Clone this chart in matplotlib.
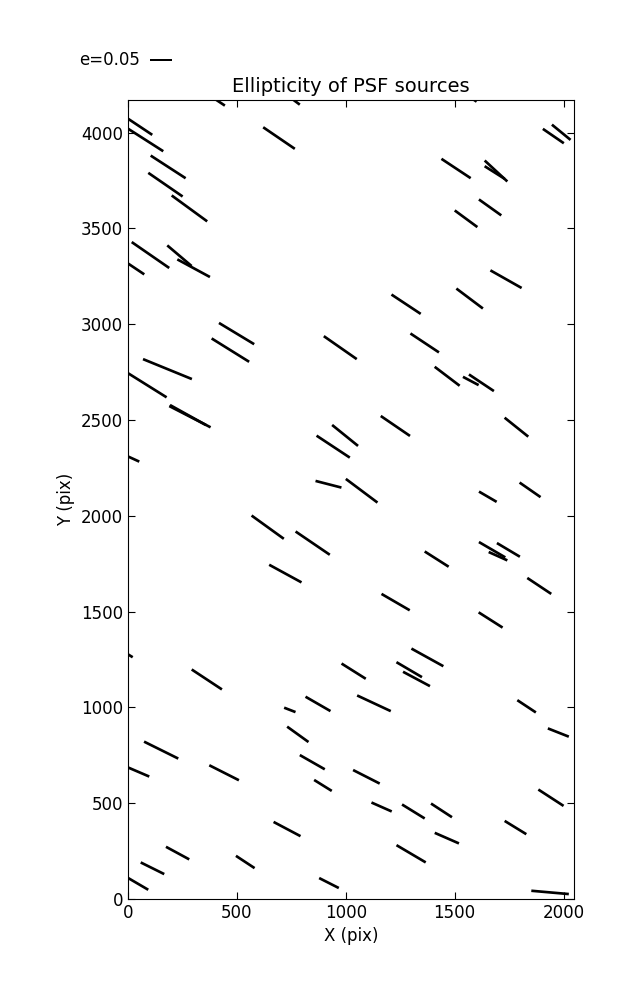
import numpy as np
import matplotlib
matplotlib.use("Agg")
import matplotlib.pyplot as plt

# source positions (pix)
x_pos = [389.9, 752.3, 1587.2, 56.4, 81.7, 693.4, 184.4, 172.0, 282.1, 103.2,
         236.2, 301.4, 38.1, 498.6, 470.2, 974.8, 181.2, 1953.2, 1989.4, 1506.4,
         1689.9, 1683.5, 1662.8, 1552.3, 1735.8, 1568.8, 1277.0, 1362.4, 1465.6, 89.4,
         284.4, 275.2, 26.6, 996.8, 942.2, 920.6, 1072.9, 641.5, 848.1, 722.5,
         1574.1, 1622.9, 1227.8, 1783.7, 1652.3, 1846.3, 1417.4, 1672.0, 1699.1, 1746.8,
         1888.5, 1228.9, 1665.1, 11.5, 361.9, 1036.2, 743.1, 872.5, 779.8, 152.3,
         846.3, 49.5, 441.3, 895.2, 730.3, 227.8, 112.4, 538.5, 47.2, 922.9,
         1374.8, 1291.3, 1324.8, 1129.4, 1830.3, 1976.1, 1094.7, 1164.5, 1310.4, 1439.6,
         1464.1, 1300.0, 1779.3, 1942.2, 1938.1]
y_pos = [4182.3, 4177.0, 4171.9, 4029.7, 3960.9, 3971.4, 3820.8, 3728.1, 3604.2, 3360.9,
         3357.3, 3292.2, 3287.8, 2951.0, 2864.6, 2877.6, 2765.6, 3981.8, 4001.6, 3812.5,
         3799.5, 3791.7, 3609.4, 3550.2, 3234.9, 3133.9, 3104.2, 2902.1, 2728.1, 2680.7,
         2517.2, 2526.0, 2295.8, 2419.3, 2360.9, 2164.6, 2130.7, 1940.6, 1857.3, 1698.4,
         2703.6, 2694.3, 2468.8, 2462.5, 2099.5, 2135.4, 1774.0, 1822.9, 1789.1, 1822.0,
         1633.9, 1549.5, 1456.3, 1268.8, 1145.8, 1189.1, 987.0, 1018.2, 859.4, 777.1,
         714.1, 662.5, 658.9, 592.7, 365.1, 239.6, 160.4, 193.2, 78.6, 83.3,
         1260.9, 1196.9, 1148.4, 1021.4, 1005.7, 868.8, 637.8, 480.2, 456.8, 462.5,
         317.7, 236.0, 372.9, 528.6, 34.4]

# ellipticity components
e_x = [0.055, 0.0366, 0.0137, 0.055, 0.0802, 0.0726, 0.0802, 0.0788, 0.0815, 0.0861,
       0.0559, 0.0749, 0.0366, 0.0808, 0.0861, 0.0756, 0.1122, 0.0481, 0.0428, 0.0671,
       0.052, 0.0458, 0.0513, 0.052, 0.0717, 0.0609, 0.0671, 0.0655, 0.0573, 0.0879,
       0.0948, 0.0824, 0.0252, 0.0595, 0.0763, 0.0595, 0.0726, 0.074, 0.0785, 0.0742,
       0.036, 0.0573, 0.0671, 0.0543, 0.0405, 0.0481, 0.055, 0.0605, 0.0428, 0.0527,
       0.055, 0.0648, 0.055, 0.0101, 0.0694, 0.0556, 0.0261, 0.0573, 0.049, 0.0785,
       0.0573, 0.0481, 0.068, 0.0405, 0.0618, 0.0534, 0.054, 0.0428, 0.0458, 0.0451,
       0.0733, 0.0586, 0.0618, 0.0772, 0.0426, 0.0481, 0.0611, 0.0465, 0.052, 0.0481,
       0.0556, 0.0671, 0.0497, 0.0579, 0.0861]
e_y = [-0.0366, -0.0275, -0.0092, -0.0366, -0.0513, -0.0495, -0.052, -0.0543, -0.0595, -0.0595,
       -0.0474, -0.0405, -0.0245, -0.0488, -0.0536, -0.0527, -0.0458, -0.033, -0.035, -0.0444,
       -0.0481, -0.0289, -0.0366, -0.0382, -0.0405, -0.0458, -0.0444, -0.0435, -0.0435, -0.055,
       -0.0488, -0.0458, -0.0115, -0.0481, -0.0504, -0.0153, -0.0543, -0.0534, -0.0534, -0.0405,
       -0.019, -0.0382, -0.0458, -0.0435, -0.0236, -0.0334, -0.035, -0.0353, -0.0192, -0.0314,
       -0.0366, -0.0376, -0.035, -0.0062, -0.0458, -0.035, -0.0101, -0.033, -0.0353, -0.0389,
       -0.0327, -0.0206, -0.0344, -0.0252, -0.0327, -0.0289, -0.0268, -0.0282, -0.0268, -0.0229,
       -0.0405, -0.0344, -0.033, -0.036, -0.0282, -0.019, -0.0311, -0.0206, -0.0321, -0.0314,
       -0.0243, -0.0396, -0.0305, -0.0376, -0.0076]

key_e = 0.05
x_max = 2048
y_max = 4170

plt.rcParams['font.family'] = 'DejaVu Sans'
plt.rcParams['font.size'] = 12

fig = plt.figure(figsize=(6.37, 10), dpi=100)
ax = fig.add_axes([128 / 637, 101 / 1000, 446 / 637, 799 / 1000])

q = ax.quiver(x_pos, y_pos, e_x, e_y, pivot='middle', angles='uv',
              scale_units='x', scale=0.0005, width=0.006,
              headwidth=0, headlength=0, headaxislength=0, color='k')
ax.quiverkey(q, 150 / 637, 0.94, key_e, 'e=%.2f' % key_e, labelpos='W',
             coordinates='figure', fontproperties={'size': 12})

ax.set_xlim(0, x_max)
ax.set_ylim(0, y_max)
ax.set_xticks([0, 500, 1000, 1500, 2000])
ax.set_yticks(np.arange(0, 4001, 500))
ax.tick_params(direction='in', top=True, right=True, length=5, labelsize=12)
ax.set_xlabel('X (pix)')
ax.set_ylabel('Y (pix)')
ax.set_title('Ellipticity of PSF sources', fontsize=14)

plt.savefig('out.png', dpi=100)
